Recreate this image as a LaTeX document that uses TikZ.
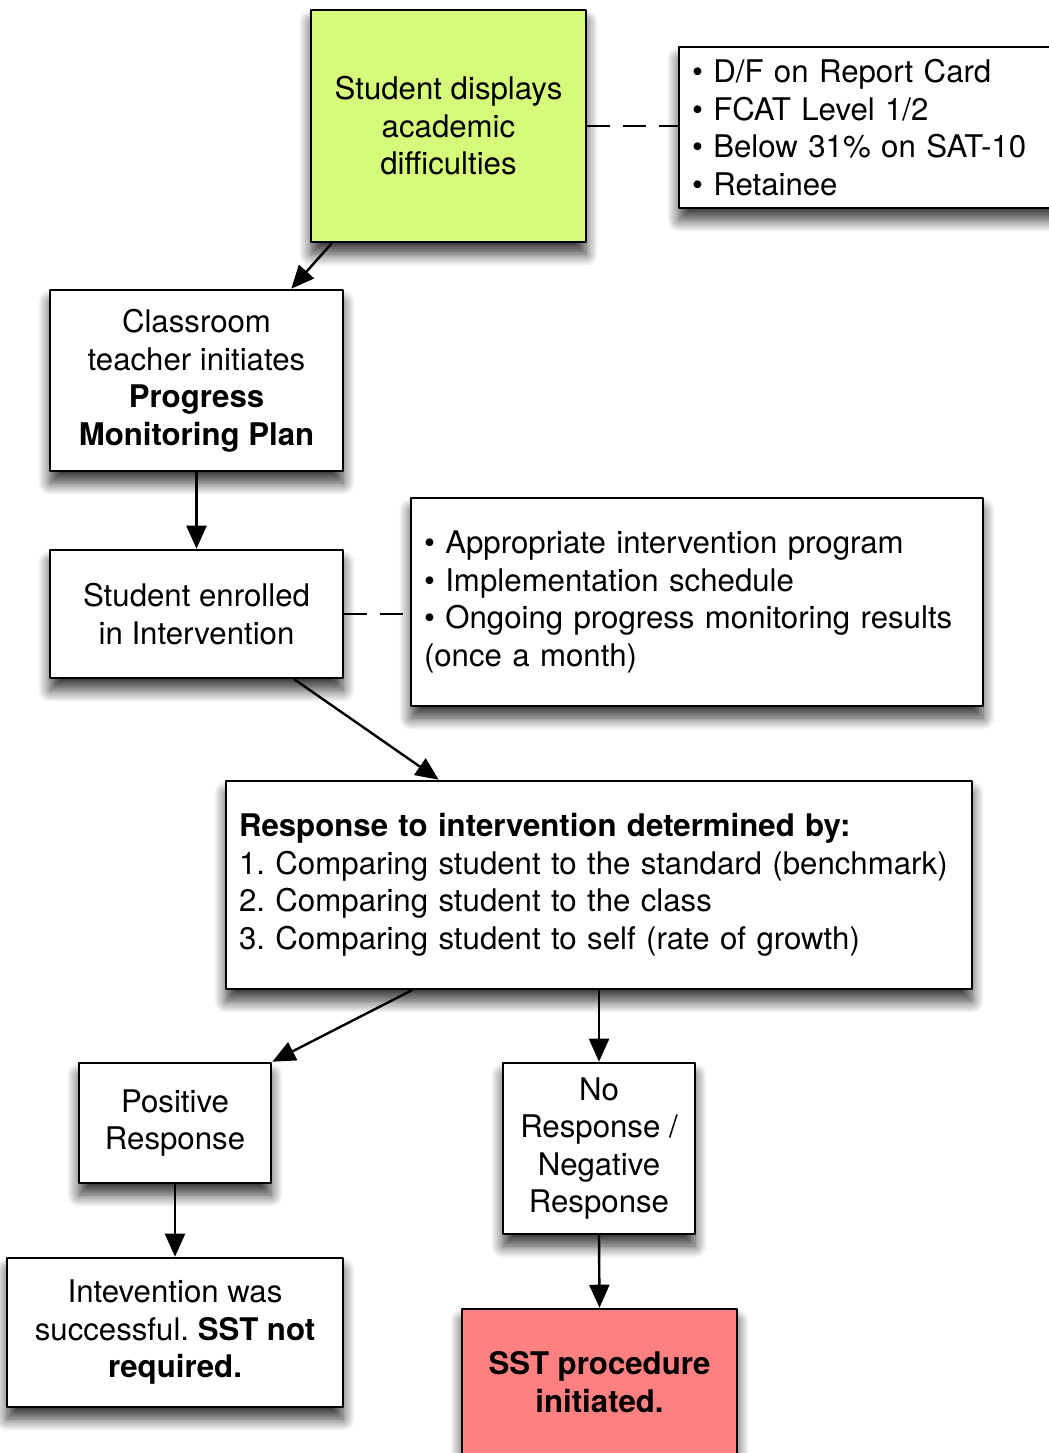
\documentclass[tikz,border=0pt]{standalone}
\usepackage{fontspec}
\setmainfont{TeX Gyre Heros}
\usetikzlibrary{arrows.meta,calc,shadows.blur}
\definecolor{flaggreen}{RGB}{214,250,122}
\definecolor{sstred}{RGB}{255,128,128}
\frenchspacing

\begin{document}
\begin{tikzpicture}[x=0.5pt, y=-0.5pt,
                    line cap=round, line join=round,
                    box/.style={draw=black, line width=1.3pt, fill=white, align=center,
                                inner sep=0pt, font=\fontsize{15.6}{18.75}\selectfont,
                                blur shadow={shadow xshift=0pt, shadow yshift=-6pt,
                                             shadow blur radius=6pt, shadow blur steps=12,
                                             shadow opacity=80}},
                    listbox/.style={box, align=left, inner xsep=6.5pt},
                    flow/.style={line width=1.2pt, -{Triangle[length=11.5pt,width=10pt]}},
                    link/.style={line width=1.2pt, line cap=butt, dash pattern=on 11.5pt off 6.5pt}]
  \useasboundingbox (0,0) rectangle (1049,1453);
  \clip (0,0) rectangle (1049,1453);

  % start and referral criteria
  \node[box, fill=flaggreen, minimum width=137.5pt, minimum height=116pt] (display) at (448.5,126)
    {Student displays\\academic\\difficulties};
  \node[listbox, text width=187pt, minimum height=80.5pt] (signs) at (879,127.5)
    {\textbullet\ D/F on Report Card\\\textbullet\ FCAT Level 1/2\\\textbullet\ Below 31\% on SAT-10\\\textbullet\ Retainee};

  % plan and intervention
  \node[box, minimum width=146.5pt, minimum height=90.5pt] (plan) at (196.5,380.5)
    {Classroom\\teacher initiates\\\textbf{Progress}\\\textbf{Monitoring Plan}};
  \node[box, minimum width=146.5pt, minimum height=64pt] (enrolled) at (196.5,614)
    {Student enrolled\\in Intervention};
  \node[listbox, text width=273pt, minimum height=104pt] (records) at (697,602)
    {\textbullet\ Appropriate intervention program\\\textbullet\ Implementation schedule\\\textbullet\ Ongoing progress monitoring results\\(once a month)};

  % response check
  \node[listbox, text width=360pt, minimum height=104pt] (response) at (599,885)
    {\textbf{Response to intervention determined by:}\\1. Comparing student to the standard (benchmark)\\2. Comparing student to the class\\3. Comparing student to self (rate of growth)};

  % outcomes
  \node[box, minimum width=96pt, minimum height=60pt] (positive) at (175,1123)
    {Positive\\Response};
  \node[box, minimum width=96pt, minimum height=85.5pt] (negative) at (599,1148.5)
    {No\\Response /\\Negative\\Response};
  \node[box, minimum width=168pt, minimum height=74.5pt] (success) at (175,1332.5)
    {Intevention was\\successful. \textbf{SST not}\\\textbf{required.}};
  \node[box, fill=sstred, minimum width=137.5pt, minimum height=73pt] (sst) at (599.5,1382)
    {\textbf{SST procedure}\\\textbf{initiated.}};

  % connectors
  \draw[link] (display.east) -- (display.east -| signs.west);
  \draw[link] (enrolled.east) -- (enrolled.east -| records.west);
  \draw[flow] ($(display.south west)+(22,0)$) -- ($(plan.north east)+(-53,0)$);
  \draw[flow] (plan.south) -- (enrolled.north);
  \draw[flow] ($(enrolled.south east)+(-50,0)$) -- ($(response.north west)+(214,0)$);
  \draw[flow] ($(response.south west)+(187,0)$) -- (positive.north east);
  \draw[flow] (response.south -| negative.north) -- (negative.north);
  \draw[flow] (positive.south) -- (success.north);
  \draw[flow] (negative.south) -- (sst.north);

\end{tikzpicture}
\end{document}
